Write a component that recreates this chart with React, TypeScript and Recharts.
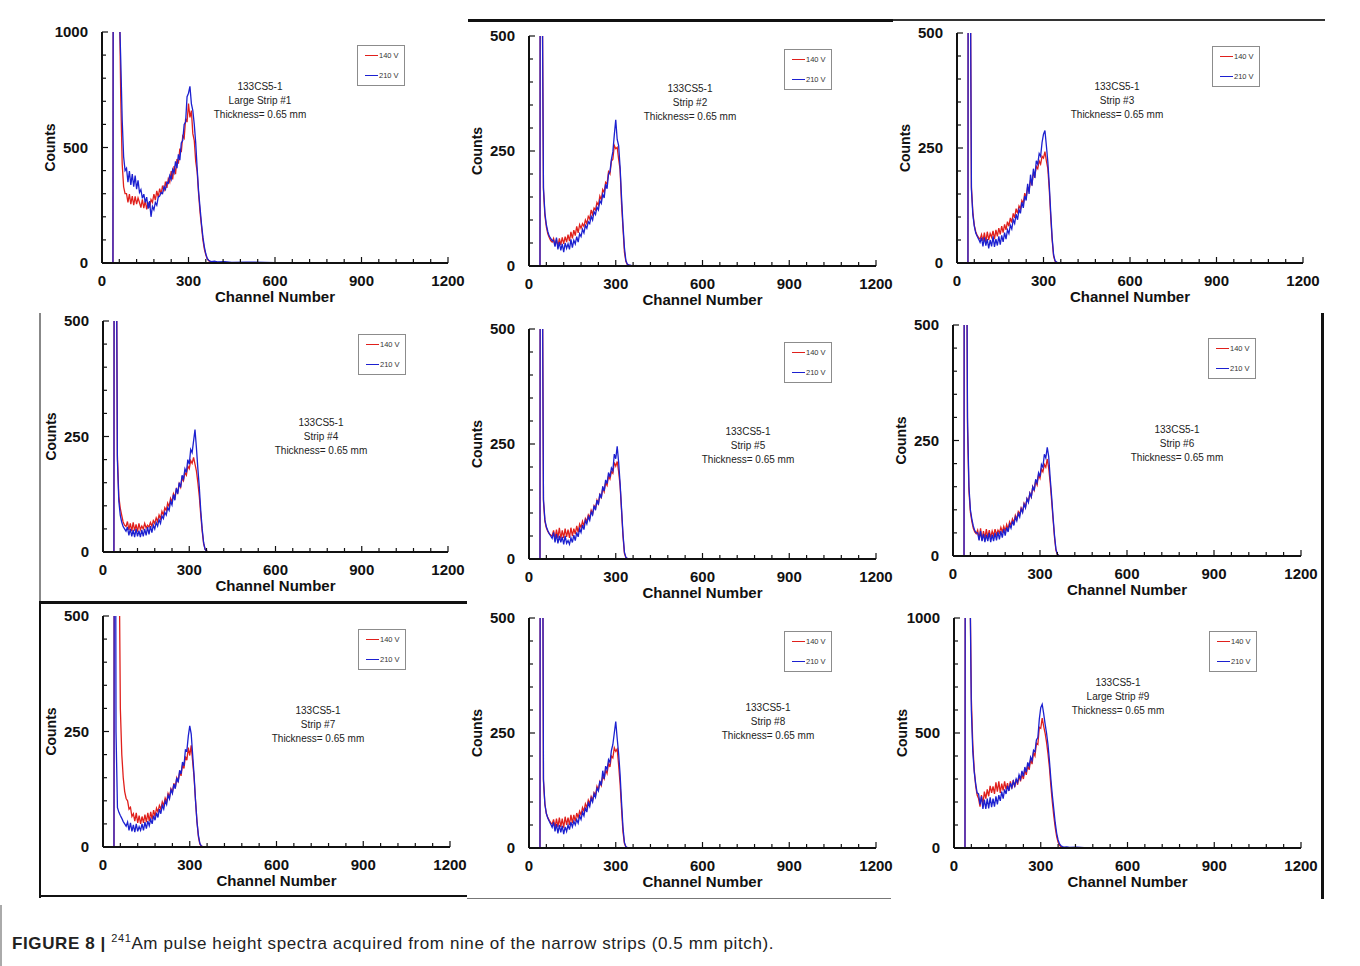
import React from "react";
import { LineChart, Line, XAxis, YAxis, Legend } from "recharts";

// channel grid shared by all nine spectra (denser where the spectra change)
const CHANNELS = [
  0, 38, 40, 45, 50, 55, 60, 65, 70, 75, 80,
  85, 90, 95, 100, 105, 110, 115, 120, 125, 130,
  135, 140, 145, 150, 155, 160, 165, 170, 175, 180,
  185, 190, 195, 200, 205, 210, 215, 220, 225, 230,
  235, 240, 245, 250, 255, 260, 265, 270, 275, 280,
  285, 290, 295, 300, 305, 310, 315, 320, 325, 330,
  335, 340, 345, 350, 355, 360, 365, 370, 375, 380,
  390, 400, 425, 450, 500, 600, 700, 800, 900, 1000,
];

// counts, 140 V (red) and 210 V (blue) per strip
const P1_140V = [
  0, 0, 3000, 2600, 2100, 1700, 1200, 720, 430, 330, 300,
  300, 262, 298, 255, 290, 250, 288, 255, 282, 262,
  240, 275, 238, 270, 232, 262, 240, 275, 262, 298,
  272, 312, 285, 322, 298, 335, 310, 352, 325, 365,
  350, 398, 362, 420, 385, 450, 430, 495, 480, 550,
  540, 625, 610, 690, 630, 660, 560, 530, 440, 395,
  300, 220, 160, 100, 60, 35, 18, 10, 6, 4,
  3, 2, 1, 1, 0, 0, 0, 0, 0, 0,
];
const P1_210V = [
  0, 0, 3000, 2600, 2000, 1500, 1100, 880, 620, 460, 400,
  410, 350, 398, 338, 385, 330, 378, 320, 358, 305,
  318, 280, 298, 262, 285, 235, 268, 200, 245, 230,
  262, 250, 285, 290, 305, 300, 330, 318, 350, 345,
  378, 362, 405, 390, 440, 410, 470, 445, 520, 530,
  600, 610, 720, 735, 765, 690, 660, 600, 520, 410,
  310, 240, 170, 112, 70, 40, 20, 12, 8, 6,
  8, 5, 6, 3, 4, 2, 1, 1, 0, 0,
];
const P2_140V = [
  0, 0, 2000, 700, 165, 110, 85, 70, 62, 55, 52,
  60, 45, 58, 42, 60, 46, 62, 48, 64, 52,
  68, 54, 74, 60, 78, 66, 86, 72, 90, 82,
  92, 86, 100, 92, 108, 102, 122, 112, 126, 122,
  138, 132, 152, 144, 166, 160, 182, 178, 205, 200,
  228, 232, 262, 255, 258, 232, 210, 135, 82, 30,
  10, 3, 2, 1, 0, 1, 0, 0, 0, 0,
  0, 0, 0, 0, 0, 0, 0, 0, 0, 0,
];
const P2_210V = [
  0, 0, 2000, 700, 170, 115, 90, 75, 65, 60, 55,
  56, 42, 62, 36, 52, 34, 48, 30, 50, 38,
  48, 36, 58, 40, 56, 48, 64, 52, 70, 64,
  80, 72, 88, 82, 96, 92, 108, 100, 118, 112,
  128, 122, 142, 136, 156, 148, 178, 168, 200, 205,
  232, 248, 285, 318, 275, 262, 215, 150, 90, 40,
  12, 4, 2, 2, 1, 1, 0, 1, 0, 0,
  1, 0, 1, 0, 0, 0, 0, 0, 0, 0,
];
const P3_140V = [
  0, 0, 2000, 800, 165, 110, 82, 68, 60, 55, 52,
  62, 48, 66, 45, 68, 50, 64, 56, 70, 52,
  72, 58, 76, 62, 80, 66, 84, 72, 90, 80,
  98, 88, 108, 98, 118, 108, 124, 118, 136, 130,
  152, 142, 166, 158, 180, 172, 195, 188, 210, 205,
  222, 215, 232, 228, 242, 222, 205, 160, 100, 50,
  15, 4, 1, 1, 0, 0, 0, 0, 0, 0,
  0, 0, 0, 0, 0, 0, 0, 0, 0, 0,
];
const P3_210V = [
  0, 0, 2000, 800, 160, 105, 80, 65, 58, 52, 45,
  55, 36, 56, 38, 52, 32, 50, 36, 58, 35,
  52, 38, 58, 40, 60, 46, 66, 52, 72, 64,
  82, 74, 94, 86, 106, 94, 116, 108, 132, 120,
  146, 136, 172, 150, 192, 168, 205, 185, 222, 215,
  238, 232, 262, 280, 288, 255, 220, 170, 110, 55,
  18, 5, 2, 1, 0, 1, 0, 0, 0, 0,
  1, 0, 1, 0, 0, 0, 0, 0, 0, 0,
];
const P4_140V = [
  0, 0, 2000, 900, 210, 120, 95, 80, 65, 58, 55,
  66, 48, 62, 45, 64, 46, 60, 44, 62, 48,
  56, 50, 62, 52, 58, 54, 64, 56, 68, 62,
  74, 66, 80, 72, 88, 80, 96, 90, 106, 98,
  116, 108, 126, 118, 136, 128, 148, 140, 160, 154,
  172, 166, 186, 180, 198, 192, 205, 190, 175, 150,
  120, 80, 45, 18, 6, 2, 1, 0, 0, 0,
  0, 0, 0, 0, 0, 0, 0, 0, 0, 0,
];
const P4_210V = [
  0, 0, 2000, 900, 200, 110, 80, 65, 55, 50, 45,
  54, 36, 50, 34, 48, 32, 50, 34, 46, 32,
  48, 34, 50, 36, 54, 38, 56, 42, 58, 50,
  64, 56, 70, 62, 78, 72, 86, 80, 96, 90,
  110, 102, 124, 112, 138, 126, 150, 140, 166, 158,
  180, 172, 200, 190, 222, 215, 240, 265, 225, 180,
  140, 90, 50, 20, 6, 2, 1, 0, 0, 0,
  1, 0, 1, 0, 0, 0, 0, 0, 0, 0,
];
const P5_140V = [
  0, 0, 2000, 800, 125, 82, 68, 60, 55, 52, 50,
  62, 44, 64, 46, 68, 44, 62, 46, 66, 48,
  64, 46, 68, 50, 66, 54, 72, 58, 76, 68,
  82, 72, 88, 82, 96, 90, 106, 98, 116, 110,
  128, 120, 140, 134, 154, 146, 166, 160, 180, 174,
  190, 186, 210, 202, 212, 190, 160, 105, 50, 12,
  3, 1, 0, 0, 0, 0, 0, 0, 0, 0,
  0, 0, 0, 0, 0, 0, 0, 0, 0, 0,
];
const P5_210V = [
  0, 0, 2000, 800, 130, 85, 70, 62, 55, 50, 45,
  58, 36, 54, 34, 50, 36, 48, 32, 50, 34,
  40, 32, 46, 36, 52, 40, 58, 48, 66, 58,
  74, 64, 84, 76, 92, 84, 102, 96, 116, 106,
  128, 118, 142, 132, 158, 148, 172, 164, 188, 178,
  198, 192, 228, 218, 245, 210, 165, 110, 55, 15,
  4, 1, 1, 0, 0, 0, 0, 0, 0, 0,
  0, 1, 0, 0, 0, 0, 0, 0, 0, 0,
];
const P6_140V = [
  0, 0, 2000, 1000, 280, 140, 95, 75, 60, 52, 48,
  56, 36, 60, 34, 54, 38, 58, 40, 56, 40,
  54, 44, 58, 46, 56, 50, 62, 52, 64, 54,
  68, 58, 74, 66, 80, 72, 88, 80, 96, 90,
  104, 96, 114, 106, 124, 118, 136, 128, 150, 142,
  162, 154, 176, 168, 188, 182, 198, 192, 210, 190,
  160, 120, 80, 40, 12, 3, 1, 0, 0, 0,
  0, 0, 0, 0, 0, 0, 0, 0, 0, 0,
];
const P6_210V = [
  0, 0, 2000, 1000, 300, 150, 100, 80, 65, 55, 50,
  50, 34, 54, 32, 48, 30, 46, 32, 50, 30,
  46, 32, 50, 34, 52, 36, 54, 40, 58, 44,
  62, 52, 68, 60, 76, 66, 84, 76, 92, 84,
  102, 94, 112, 104, 124, 116, 136, 128, 150, 142,
  166, 158, 180, 172, 198, 192, 220, 212, 235, 215,
  170, 130, 85, 45, 15, 4, 1, 0, 0, 0,
  1, 0, 0, 1, 0, 0, 0, 0, 0, 0,
];
const P7_140V = [
  0, 0, 2000, 1800, 1200, 700, 300, 200, 150, 120, 105,
  100, 82, 86, 66, 72, 56, 74, 52, 68, 50,
  66, 52, 70, 54, 74, 56, 76, 60, 80, 66,
  84, 76, 90, 82, 98, 90, 106, 98, 116, 108,
  126, 118, 138, 128, 150, 142, 162, 154, 178, 170,
  196, 188, 215, 198, 220, 185, 150, 100, 55, 22,
  6, 2, 1, 0, 0, 0, 0, 0, 0, 0,
  0, 0, 0, 0, 0, 0, 0, 0, 0, 0,
];
const P7_210V = [
  0, 0, 2000, 250, 85, 75, 68, 62, 55, 50, 45,
  54, 36, 52, 34, 48, 32, 50, 34, 44, 36,
  50, 36, 54, 40, 56, 46, 60, 50, 68, 58,
  74, 64, 82, 72, 90, 82, 100, 92, 112, 104,
  124, 116, 136, 126, 150, 140, 166, 158, 184, 176,
  210, 208, 240, 262, 245, 200, 155, 100, 55, 25,
  8, 2, 1, 0, 0, 0, 0, 0, 0, 0,
  0, 1, 0, 1, 0, 0, 0, 0, 0, 0,
];
const P8_140V = [
  0, 0, 2000, 1200, 145, 95, 75, 66, 60, 55, 52,
  62, 44, 64, 46, 66, 46, 64, 44, 68, 50,
  66, 50, 72, 54, 72, 58, 76, 66, 80, 72,
  88, 80, 96, 88, 104, 96, 112, 104, 120, 114,
  134, 126, 144, 136, 156, 150, 170, 162, 184, 176,
  200, 196, 218, 210, 215, 180, 140, 85, 35, 10,
  2, 1, 0, 0, 0, 0, 0, 0, 0, 0,
  0, 0, 0, 0, 0, 0, 0, 0, 0, 0,
];
const P8_210V = [
  0, 0, 2000, 1200, 150, 95, 75, 65, 58, 52, 45,
  56, 36, 52, 32, 50, 34, 48, 30, 46, 36,
  50, 40, 56, 46, 58, 50, 62, 54, 70, 62,
  78, 70, 88, 78, 98, 90, 108, 100, 118, 110,
  130, 124, 146, 136, 168, 150, 178, 170, 192, 186,
  212, 225, 250, 275, 238, 205, 160, 100, 45, 12,
  3, 1, 0, 0, 0, 0, 0, 0, 0, 0,
  0, 1, 0, 0, 1, 0, 0, 0, 0, 0,
];
const P9_140V = [
  0, 0, 3000, 2500, 1800, 1200, 650, 450, 340, 270, 230,
  215, 180, 230, 190, 245, 215, 255, 225, 270, 240,
  268, 235, 285, 245, 290, 240, 280, 250, 290, 255,
  282, 250, 290, 258, 295, 265, 300, 275, 315, 290,
  320, 300, 340, 318, 360, 340, 385, 365, 415, 400,
  455, 450, 525, 520, 565, 530, 500, 460, 410, 350,
  270, 200, 140, 90, 50, 25, 12, 6, 3, 2,
  1, 1, 0, 0, 0, 0, 0, 0, 0, 0,
];
const P9_210V = [
  0, 0, 3000, 2500, 1800, 1200, 600, 420, 330, 280, 240,
  235, 190, 225, 170, 210, 170, 215, 172, 220, 178,
  215, 180, 225, 190, 230, 205, 245, 215, 255, 235,
  270, 248, 282, 262, 290, 270, 300, 285, 318, 300,
  335, 312, 352, 330, 372, 355, 395, 380, 425, 418,
  470, 480, 560, 610, 625, 585, 540, 500, 450, 380,
  300, 230, 170, 110, 65, 35, 18, 10, 6, 4,
  5, 3, 4, 2, 2, 1, 1, 0, 0, 0,
];

const RED = [P1_140V, P2_140V, P3_140V, P4_140V, P5_140V, P6_140V, P7_140V, P8_140V, P9_140V];
const BLUE = [P1_210V, P2_210V, P3_210V, P4_210V, P5_210V, P6_210V, P7_210V, P8_210V, P9_210V];

const Y_MAX = [1000, 500, 500, 500, 500, 500, 500, 500, 1000];
const STRIP_LABELS = [
  "Large Strip #1", "Strip #2", "Strip #3", "Strip #4", "Strip #5",
  "Strip #6", "Strip #7", "Strip #8", "Large Strip #9",
];
const SAMPLE = "133CS5-1";
const THICKNESS = "Thickness= 0.65 mm";
const SERIES_NAMES = ["140 V", "210 V"];

const X_TICKS = [0, 60, 120, 180, 240, 300, 360, 420, 480, 540, 600, 660, 720, 780, 840, 900, 960, 1020, 1080, 1140, 1200];
const Y_TICKS_500 = [0, 50, 100, 150, 200, 250, 300, 350, 400, 450, 500];
const Y_TICKS_1000 = [0, 100, 200, 300, 400, 500, 600, 700, 800, 900, 1000];

// layout: plot box [left, top, width, height] and note centre offset inside it
const PLOT_BOXES = [
  [102, 32, 346, 231], [529, 36, 347, 230], [957, 33, 346, 230],
  [103, 321, 345, 231], [529, 329, 347, 230], [953, 325, 348, 231],
  [103, 616, 347, 231], [529, 618, 347, 230], [954, 618, 347, 230],
];
const NOTE_OFFSETS = [
  [158, 55], [161, 53], [160, 54],
  [218, 102], [219, 103], [224, 105],
  [215, 95], [239, 90], [164, 65],
];

const RED_COLOR = "#e0201c";
const BLUE_COLOR = "#1c20d0";
const FONT = "'Liberation Sans', Arial, Helvetica, sans-serif";
const Y_AXIS_W = 104;
const X_AXIS_H = 45;
const M_TOP = 10;
const M_RIGHT = 30;
const M_BOTTOM = 5;
const FRAME = { stroke: "#111", strokeWidth: 2 };

const renderXTick = (props: any) => {
  const { x, y, payload } = props;
  const major = payload.value % 300 === 0;
  return (
    <g>
      <line x1={x} x2={x} y1={y} y2={y - (major ? 6 : 4)} stroke="#111" strokeWidth={1.2} />
      {major && (
        <text x={x} y={y + 23} textAnchor="middle" fontSize={15} fontWeight="bold" fill="#111" fontFamily={FONT}>
          {payload.value}
        </text>
      )}
    </g>
  );
};

const makeYTick = (step: number) => (props: any) => {
  const { x, y, payload } = props;
  const major = payload.value % step === 0;
  return (
    <g>
      <line x1={x} x2={x + (major ? 6 : 4)} y1={y} y2={y} stroke="#111" strokeWidth={1.2} />
      {major && (
        <text x={x - 14} y={y + 5} textAnchor="end" fontSize={15} fontWeight="bold" fill="#111" fontFamily={FONT}>
          {payload.value}
        </text>
      )}
    </g>
  );
};

const renderLegend = (props: any) => {
  const items = props.payload || [];
  return (
    <div
      style={{
        width: 48, height: 41, boxSizing: "border-box", border: "1px solid #8c8c8c",
        background: "#fff", position: "relative", fontFamily: FONT, fontSize: 7.5, color: "#333",
      }}
    >
      {items.map((it: any, i: number) => (
        <div
          key={it.value}
          style={{ position: "absolute", left: 7, top: i === 0 ? 4 : 24, height: 11, display: "flex", alignItems: "center" }}
        >
          <span style={{ display: "inline-block", width: 13, height: 1.6, background: it.color }} />
          <span style={{ marginLeft: 1 }}>{it.value}</span>
        </div>
      ))}
    </div>
  );
};

function Panel({ index }: { index: number }) {
  const [px, py, pw, ph] = PLOT_BOXES[index];
  const yMax = Y_MAX[index];
  const red = RED[index];
  const blue = BLUE[index];
  const data = CHANNELS.map((ch, i) => ({ ch, v140: red[i], v210: blue[i] }));
  const yTicks = yMax === 1000 ? Y_TICKS_1000 : Y_TICKS_500;

  return (
    <div style={{ position: "absolute", left: px - Y_AXIS_W, top: py - M_TOP }}>
      <LineChart
        width={Y_AXIS_W + pw + M_RIGHT}
        height={M_TOP + ph + X_AXIS_H + M_BOTTOM}
        data={data}
        margin={{ top: M_TOP, right: M_RIGHT, bottom: M_BOTTOM, left: 0 }}
        style={{ fontFamily: FONT }}
      >
        <XAxis
          dataKey="ch"
          type="number"
          domain={[0, 1200]}
          ticks={X_TICKS}
          interval={0}
          tickSize={0}
          tickMargin={0}
          tickLine={false}
          height={X_AXIS_H}
          axisLine={FRAME}
          tick={renderXTick}
          label={{ value: "Channel Number", position: "insideBottom", offset: 6, fontSize: 15, fontWeight: "bold", fill: "#111" }}
        />
        <XAxis xAxisId="top" orientation="top" type="number" domain={[0, 1200]} height={0} tick={false} tickLine={false} axisLine={FRAME} />
        <YAxis
          type="number"
          domain={[0, yMax]}
          allowDataOverflow
          ticks={yTicks}
          interval={0}
          tickSize={0}
          tickMargin={0}
          tickLine={false}
          width={Y_AXIS_W}
          axisLine={FRAME}
          tick={makeYTick(yMax / 2)}
          label={{ value: "Counts", angle: -90, position: "center", fontSize: 14, fontWeight: "bold", fill: "#111" }}
        />
        <YAxis yAxisId="right" orientation="right" type="number" domain={[0, yMax]} width={0} tick={false} tickLine={false} axisLine={FRAME} />
        <Legend
          layout="vertical"
          align="center"
          verticalAlign="middle"
          wrapperStyle={{ left: Y_AXIS_W + 255, top: M_TOP + 13, width: 48, height: 41 }}
          content={renderLegend}
        />
        <Line type="linear" dataKey="v140" name={SERIES_NAMES[0]} stroke={RED_COLOR} strokeWidth={1.3} dot={false} isAnimationActive={false} />
        <Line type="linear" dataKey="v210" name={SERIES_NAMES[1]} stroke={BLUE_COLOR} strokeWidth={1.3} dot={false} isAnimationActive={false} />
      </LineChart>
    </div>
  );
}

// leftover frame rules from the cropped sub-figures
const RULES = [
  { left: 468, top: 19, width: 425, height: 3, bg: "#111" },
  { left: 893, top: 19, width: 432, height: 1.5, bg: "#333" },
  { left: 39, top: 313, width: 1.5, height: 290, bg: "#888" },
  { left: 40, top: 601, width: 427, height: 2.5, bg: "#111" },
  { left: 39, top: 601, width: 2, height: 297, bg: "#111" },
  { left: 40, top: 895, width: 427, height: 2, bg: "#111" },
  { left: 467, top: 898, width: 424, height: 1, bg: "#777" },
  { left: 1321, top: 313, width: 2.5, height: 586, bg: "#111" },
  { left: 0, top: 905, width: 1.5, height: 61, bg: "#aaa" },
];

export default function App() {
  return (
    <div style={{ position: "relative", width: 1360, height: 966, background: "#fff", overflow: "hidden", fontFamily: FONT }}>
      <style>{"body{margin:0}"}</style>
      {RULES.map((r, i) => (
        <div key={i} style={{ position: "absolute", left: r.left, top: r.top, width: r.width, height: r.height, background: r.bg }} />
      ))}
      {PLOT_BOXES.map((_, i) => (
        <Panel key={i} index={i} />
      ))}
      {PLOT_BOXES.map(([px, py], i) => (
        <div
          key={"n" + i}
          style={{
            position: "absolute", left: px + NOTE_OFFSETS[i][0] - 80, top: py + NOTE_OFFSETS[i][1] - 7,
            width: 160, textAlign: "center", fontSize: 10, lineHeight: "14px", color: "#222",
          }}
        >
          <div>{SAMPLE}</div>
          <div>{STRIP_LABELS[i]}</div>
          <div>{THICKNESS}</div>
        </div>
      ))}
      <div style={{ position: "absolute", left: 12, top: 932, fontSize: 17, letterSpacing: 0.6, color: "#222", whiteSpace: "nowrap" }}>
        <b>FIGURE 8 |</b> <sup style={{ fontSize: 11 }}>241</sup>Am pulse height spectra acquired from nine of the narrow strips (0.5 mm pitch).
      </div>
    </div>
  );
}
